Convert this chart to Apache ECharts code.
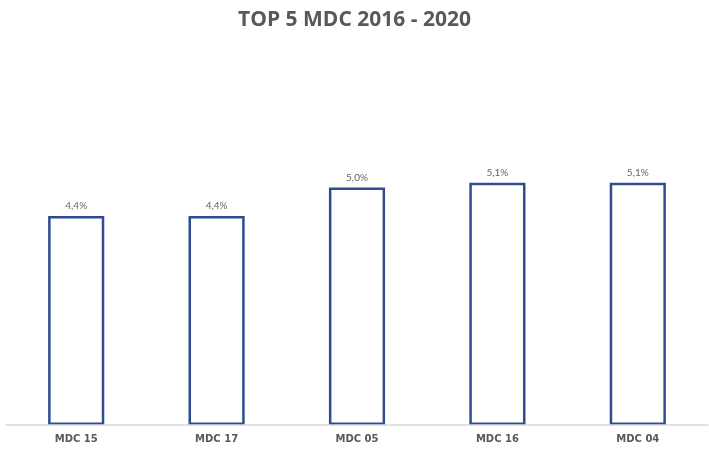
<!DOCTYPE html>
<html><head><meta charset="utf-8">
<script src="https://cdn.jsdelivr.net/npm/echarts@6/dist/echarts.min.js"></script>
<style>html,body{margin:0;padding:0;background:#fff}#c{width:709px;height:451px}</style>
</head><body><div id="c"></div>
<script>
const categories = ["MDC 15", "MDC 17", "MDC 05", "MDC 16", "MDC 04"];
const values = [4.4, 4.4, 5.0, 5.1, 5.1];
const titleText = "TOP 5 MDC 2016 - 2020";

const chart = echarts.init(document.getElementById('c'), null, {renderer: 'canvas'});
chart.setOption({
  animation: false,
  title: {
    text: titleText, left: 'center', top: 5,
    textStyle: {fontFamily: 'Open Sans', fontWeight: 'bold', fontSize: 21, color: '#595959'}
  },
  grid: {left: 6, right: 1, top: 45, bottom: 26},
  xAxis: {
    type: 'category', data: categories, z: 5,
    axisLine: {lineStyle: {color: '#D9D9D9', width: 1.5}},
    axisTick: {show: false},
    axisLabel: {color: '#595959', fontWeight: 'bold', fontSize: 10, fontFamily: 'DejaVu Sans', margin: 9}
  },
  yAxis: {type: 'value', min: 0, max: 8, show: false, splitLine: {show: false}},
  series: [{
    type: 'bar', data: values, barWidth: '40%',
    itemStyle: {color: '#ffffff', borderColor: '#2F4C93', borderWidth: 2.5},
    label: {
      show: true, position: 'top', distance: 5, color: '#666666', fontSize: 10, fontFamily: 'Lato',
      formatter: p => p.value.toFixed(1).replace('.', ',') + '%'
    }
  }]
});
</script></body></html>
